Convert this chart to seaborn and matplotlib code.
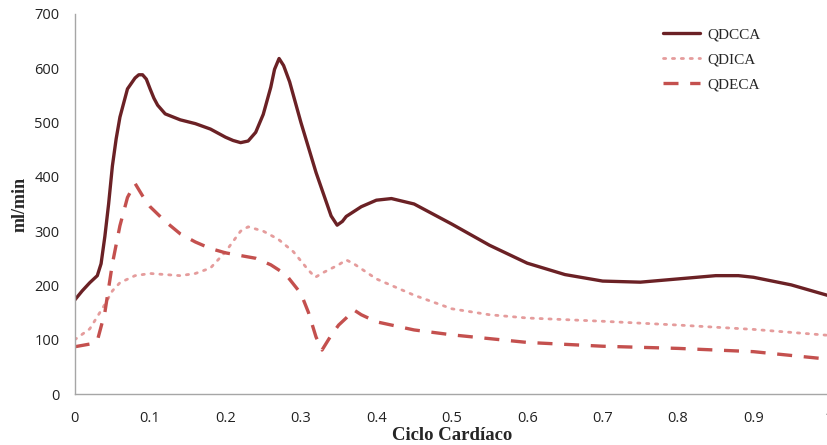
import numpy as np
import pandas as pd
import matplotlib
matplotlib.use("Agg")
import matplotlib.pyplot as plt
import seaborn as sns

# Data
x_qdcca = [0, 0.01, 0.02, 0.03, 0.035, 0.04, 0.045, 0.05, 0.055, 0.06, 0.07, 0.08, 0.085, 0.09, 0.095, 0.1, 0.105,
           0.11, 0.12, 0.14, 0.16, 0.18, 0.2, 0.21, 0.22, 0.23, 0.24, 0.25, 0.26, 0.265, 0.271, 0.277, 0.285,
           0.29, 0.3, 0.32, 0.34, 0.348, 0.355, 0.36, 0.38, 0.4, 0.42, 0.45, 0.5, 0.55, 0.6, 0.65, 0.7, 0.75,
           0.8, 0.85, 0.88, 0.9, 0.95, 1.0]
y_qdcca = [173, 190, 205, 218, 240, 290, 350, 420, 470, 510, 562, 582, 588, 588, 580, 562, 545,
           532, 516, 505, 498, 488, 473, 467, 463, 466, 482, 515, 565, 598, 618, 605, 575,
           550, 500, 408, 328, 311, 318, 327, 345, 357, 360, 350, 313, 274, 241, 220, 208, 206,
           212, 218, 218, 215, 201, 181]

x_qdica = [0, 0.02, 0.04, 0.05, 0.06, 0.08, 0.1, 0.12, 0.14, 0.16, 0.18, 0.2, 0.22, 0.23, 0.25, 0.27, 0.29,
           0.31, 0.319, 0.33, 0.35, 0.36, 0.37, 0.4, 0.45, 0.5, 0.55, 0.6, 0.7, 0.8, 0.9, 1.0]
y_qdica = [100, 120, 165, 190, 205, 218, 222, 220, 218, 222, 232, 262, 300, 308, 300, 285, 262,
           228, 215, 224, 238, 247, 240, 212, 182, 157, 146, 140, 134, 127, 119, 108]

x_qdeca = [0, 0.02, 0.03, 0.04, 0.05, 0.06, 0.07, 0.08, 0.09, 0.1, 0.12, 0.14, 0.16, 0.18, 0.2, 0.22, 0.24,
           0.26, 0.28, 0.3, 0.31, 0.32, 0.328, 0.34, 0.35, 0.36, 0.37, 0.38, 0.4, 0.45, 0.5, 0.6, 0.7, 0.8, 0.9, 1.0]
y_qdeca = [87, 92, 98, 150, 240, 310, 362, 388, 365, 345, 318, 295, 280, 268, 260, 255, 250,
           238, 220, 185, 150, 105, 81, 108, 127, 140, 155, 146, 133, 118, 109, 95, 88, 84, 78, 64]

series_names = ["QDCCA", "QDICA", "QDECA"]
x_ticks = [0, 0.1, 0.2, 0.3, 0.4, 0.5, 0.6, 0.7, 0.8, 0.9, 1]
y_ticks = [0, 100, 200, 300, 400, 500, 600, 700]

df = pd.concat([
    pd.DataFrame({"x": x_qdcca, "y": y_qdcca, "serie": series_names[0]}),
    pd.DataFrame({"x": x_qdica, "y": y_qdica, "serie": series_names[1]}),
    pd.DataFrame({"x": x_qdeca, "y": y_qdeca, "serie": series_names[2]}),
], ignore_index=True)

sns.set_style("white")
plt.rcParams["font.family"] = ["DejaVu Sans"]

fig = plt.figure(figsize=(8.27, 4.45), dpi=100)
ax = fig.add_axes([0.0903, 0.1146, 0.912, 0.854])

palette = {"QDCCA": "#6B2125", "QDICA": "#E59C9C", "QDECA": "#C4504E"}
sns.lineplot(data=df, x="x", y="y", hue="serie", palette=palette, ax=ax, sort=False, legend=False)

styles = {"QDCCA": dict(lw=2.4, ls="-"),
          "QDICA": dict(lw=2.0, ls=(0, (0.8, 2.4))),
          "QDECA": dict(lw=2.4, ls=(0, (4.5, 3.5)))}
for line, name in zip(ax.get_lines(), series_names):
    line.set_linewidth(styles[name]["lw"])
    line.set_linestyle(styles[name]["ls"])
    line.set_label(name)
    line.set_solid_joinstyle("round")
    if name == "QDICA":
        line.set_dash_capstyle("round")

ax.set_xlim(0, 1)
ax.set_ylim(0, 700)
ax.set_xticks(x_ticks)
ax.set_xticklabels([f"{t:g}" for t in x_ticks])
ax.set_yticks(y_ticks)
ax.set_yticklabels([str(t) for t in y_ticks])

for s in ["top", "right"]:
    ax.spines[s].set_visible(False)
for s in ["left", "bottom"]:
    ax.spines[s].set_color("#A6A6A6")
    ax.spines[s].set_linewidth(1.0)
ax.tick_params(axis="both", which="both", direction="out", length=5, width=1,
               color="#A6A6A6", labelsize=10.5, labelcolor="#222222", pad=6)
ax.tick_params(axis="x", pad=7)
for lbl in ax.get_xticklabels() + ax.get_yticklabels():
    lbl.set_fontfamily("Open Sans")

ax.set_xlabel("Ciclo Cardíaco", fontfamily="Liberation Serif", fontweight="bold", fontsize=13.5, labelpad=1)
ax.set_ylabel("ml/min", fontfamily="Liberation Serif", fontweight="bold", fontsize=13, labelpad=4)

leg = ax.legend(handles=ax.get_lines(), labels=series_names, loc="upper left",
                bbox_to_anchor=(0.762, 1.0), frameon=False, handlelength=2.4,
                labelspacing=0.75, handletextpad=0.5,
                prop={"family": "Liberation Serif", "size": 11})

fig.savefig("out.png", dpi=100)
